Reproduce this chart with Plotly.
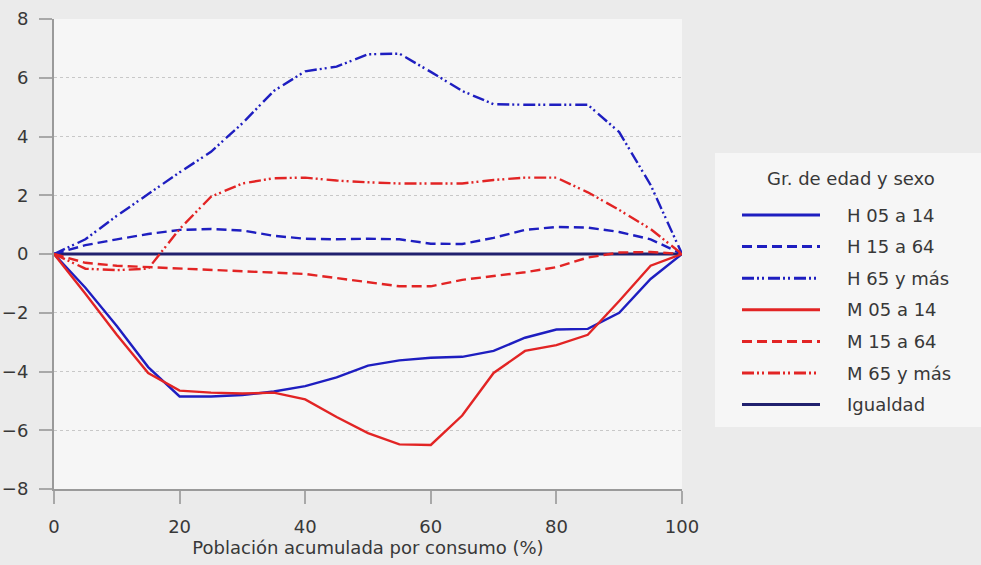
import plotly.graph_objects as go

# Cumulative population share (%)
poblacion = [0, 5, 10, 15, 20, 25, 30, 35, 40, 45, 50,
             55, 60, 65, 70, 75, 80, 85, 90, 95, 100]

h_05_14 = [0, -1.15, -2.45, -3.85, -4.85, -4.85, -4.8, -4.68, -4.5, -4.2, -3.8,
           -3.62, -3.53, -3.5, -3.3, -2.85, -2.57, -2.55, -2.0, -0.85, 0]
h_15_64 = [0, 0.3, 0.5, 0.68, 0.82, 0.85, 0.8, 0.62, 0.52, 0.5, 0.52,
           0.5, 0.35, 0.34, 0.55, 0.82, 0.92, 0.9, 0.75, 0.5, 0]
h_65_mas = [0, 0.5, 1.3, 2.05, 2.78, 3.48, 4.45, 5.55, 6.22, 6.38, 6.8,
            6.82, 6.2, 5.55, 5.1, 5.08, 5.08, 5.08, 4.15, 2.35, 0]
m_05_14 = [0, -1.35, -2.75, -4.05, -4.65, -4.72, -4.75, -4.72, -4.95, -5.55, -6.1,
           -6.48, -6.5, -5.5, -4.05, -3.3, -3.1, -2.75, -1.6, -0.4, 0]
m_15_64 = [0, -0.3, -0.4, -0.45, -0.5, -0.55, -0.6, -0.63, -0.68, -0.82, -0.96,
           -1.1, -1.1, -0.88, -0.75, -0.62, -0.45, -0.12, 0.05, 0.07, 0]
m_65_mas = [0, -0.5, -0.55, -0.5, 0.85, 1.95, 2.4, 2.58, 2.6, 2.5, 2.44,
            2.4, 2.4, 2.4, 2.52, 2.6, 2.6, 2.1, 1.5, 0.85, 0]
igualdad_x = [0, 100]
igualdad_y = [0, 0]

nombres = ["H 05 a 14", "H 15 a 64", "H 65 y más",
           "M 05 a 14", "M 15 a 64", "M 65 y más", "Igualdad"]
legend_title = "Gr. de edad y sexo"
x_title = "Población acumulada por consumo (%)"
y_ticks = [-8, -6, -4, -2, 0, 2, 4, 6, 8]
x_ticks = [0, 20, 40, 60, 80, 100]

BLUE = "#1e1ec0"
RED = "#e22424"
NAVY = "#20206e"
SOLID = "solid"
DASH = "10px,5px"
DASHDOTDOT = "12px,3px,2px,3px,2px,4px"

series = [
    (nombres[0], h_05_14, BLUE, SOLID),
    (nombres[1], h_15_64, BLUE, DASH),
    (nombres[2], h_65_mas, BLUE, DASHDOTDOT),
    (nombres[3], m_05_14, RED, SOLID),
    (nombres[4], m_15_64, RED, DASH),
    (nombres[5], m_65_mas, RED, DASHDOTDOT),
]

FONT = "DejaVu Sans"
FS = 18
TXT = "#383838"
W, H = 981, 565
L, R, T, B = 54, 299, 19, 76
PW, PH = W - L - R, H - T - B


def px(xp):
    return (xp - L) / PW


def py(yp):
    return (H - B - yp) / PH


fig = go.Figure()

# Equality reference line
fig.add_trace(go.Scatter(x=igualdad_x, y=igualdad_y, mode="lines",
                         line=dict(color=NAVY, width=3), showlegend=False,
                         hoverinfo="skip"))

for name, vals, color, dash in series:
    fig.add_trace(go.Scatter(x=poblacion, y=vals, mode="lines", name=name,
                             line=dict(color=color, width=2.4, dash=dash),
                             showlegend=False))

# Hand-built legend panel (long line samples)
shapes = [dict(type="rect", xref="paper", yref="paper",
               x0=px(715), x1=px(985), y0=py(427), y1=py(153),
               fillcolor="#f6f6f6", line=dict(width=0), layer="below")]
annotations = [dict(text=legend_title, xref="paper", yref="paper",
                    x=px(851), y=py(178), showarrow=False,
                    xanchor="center", yanchor="middle",
                    font=dict(family=FONT, size=FS, color=TXT))]

legend_items = [(n, c, d) for n, _, c, d in series] + [(nombres[6], NAVY, SOLID)]
for i, (name, color, dash) in enumerate(legend_items):
    yy = 215 + i * 31.6
    shapes.append(dict(type="line", xref="paper", yref="paper",
                       x0=px(742), x1=px(820), y0=py(yy), y1=py(yy),
                       line=dict(color=color, width=3, dash=dash)))
    annotations.append(dict(text=name, xref="paper", yref="paper",
                            x=px(845), y=py(yy), showarrow=False,
                            xanchor="left", yanchor="middle",
                            font=dict(family=FONT, size=FS, color=TXT)))

fig.update_layout(
    width=W, height=H,
    margin=dict(l=L, r=R, t=T, b=B, pad=0),
    paper_bgcolor="#ebebeb",
    plot_bgcolor="#f6f6f6",
    font=dict(family=FONT, size=FS, color=TXT),
    showlegend=False,
    shapes=shapes,
    annotations=annotations,
)

fig.update_xaxes(range=[0, 100], tickvals=x_ticks, showgrid=False, zeroline=False,
                 automargin=False,
                 showline=True, linecolor="#9a9a9a", linewidth=2,
                 ticks="outside", ticklen=13, tickwidth=2, tickcolor="#a8a8a8",
                 ticklabelstandoff=7,
                 title=dict(text=x_title, standoff=4,
                            font=dict(family=FONT, size=FS, color=TXT)))
fig.update_yaxes(range=[-8, 8], tickvals=y_ticks, zeroline=False,
                 automargin=False,
                 showgrid=True, gridcolor="#c8c8c8", griddash="dot", gridwidth=1,
                 showline=True, linecolor="#9a9a9a", linewidth=2,
                 ticks="outside", ticklen=13, tickwidth=2, tickcolor="#a8a8a8",
                 ticklabelstandoff=7)

fig.write_html("out.html")
